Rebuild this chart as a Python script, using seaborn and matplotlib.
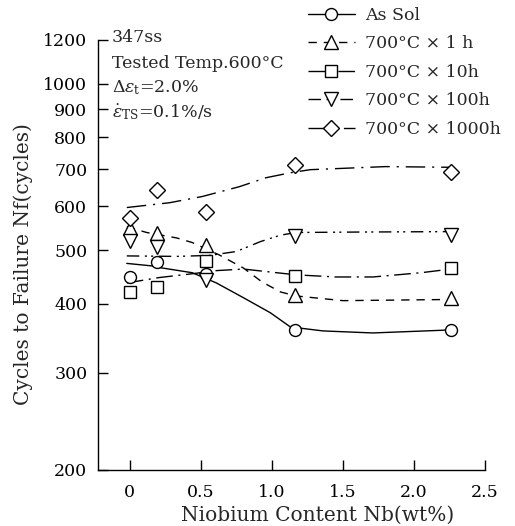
import numpy as np
import pandas as pd
import matplotlib
matplotlib.use("Agg")
import matplotlib.pyplot as plt
from matplotlib.lines import Line2D
from matplotlib.ticker import FixedLocator, NullLocator
import seaborn as sns

# measured points: Nb content (wt%) vs cycles to failure
nb = [0.0, 0.19, 0.54, 1.16, 2.26]
as_sol = [447, 476, 453, 359, 359]
h1 = [549, 537, 511, 415, 410]
h10 = [420, 429, 478, 449, 464]
h100 = [520, 507, 441, 531, 533]
h1000 = [572, 643, 586, 713, 693]

# trend curves
sol_fit_x = [-0.02, 0.16, 0.23, 0.44, 0.61, 0.80, 0.99, 1.13, 1.36, 1.71, 2.20, 2.26]
sol_fit = [473, 468, 464, 455, 436, 410, 385, 363, 357, 354, 358, 359]
h1_fit_x = [-0.02, 0.12, 0.33, 0.44, 0.63, 0.80, 0.93, 1.06, 1.17, 1.50, 2.26]
h1_fit = [551, 538, 526, 516, 490, 464, 438, 420, 413, 405, 407]
h10_fit_x = [-0.02, 0.21, 0.44, 0.61, 0.80, 1.00, 1.17, 1.45, 1.71, 2.05, 2.26]
h10_fit = [436, 446, 453, 459, 462, 456, 451, 447, 447, 455, 462]
h100_fit_x = [-0.02, 0.33, 0.56, 0.75, 0.92, 1.06, 1.17, 1.60, 2.26]
h100_fit = [488, 487, 489, 497, 518, 532, 538, 539, 540]
h1000_fit_x = [-0.02, 0.28, 0.51, 0.77, 0.96, 1.13, 1.27, 1.80, 2.26]
h1000_fit = [597, 609, 625, 651, 676, 690, 699, 708, 706]

labels = ["As Sol", "700°C × 1 h", "700°C × 10h", "700°C × 100h", "700°C × 1000h"]
yticks = [200, 300, 400, 500, 600, 700, 800, 900, 1000, 1200]
xticks = [0, 0.5, 1.0, 1.5, 2.0, 2.5]
xticklabels = ["0", "0.5", "1.0", "1.5", "2.0", "2.5"]

sns.set_style("ticks")
plt.rcParams["font.family"] = ["DejaVu Serif"]
plt.rcParams["mathtext.fontset"] = "dejavuserif"

fig = plt.figure(figsize=(5.15, 5.26), dpi=100)
ax = fig.add_axes([0.191, 0.1065, 0.751, 0.8175])

series = [
    (sol_fit_x, sol_fit, as_sol, "o", 8.6, "-"),
    (h1_fit_x, h1_fit, h1, "^", 9.5, (0, (6, 5))),
    (h10_fit_x, h10_fit, h10, "s", 8.0, (0, (12, 4, 1.5, 4))),
    (h100_fit_x, h100_fit, h100, "v", 9.5, (0, (9, 4, 1.5, 3, 1.5, 4))),
    (h1000_fit_x, h1000_fit, h1000, "D", 8.5, (0, (14, 5, 1.5, 5))),
]

handles = []
for (fx, fy, pts, mk, ms, ls), lab in zip(series, labels):
    sns.lineplot(x=fx, y=fy, ax=ax, color="black", lw=1.0, linestyle=ls,
                 sort=False, zorder=2)
    sns.lineplot(x=nb, y=pts, ax=ax, color="black", linestyle="", marker=mk,
                 markersize=ms, markerfacecolor="white", markeredgecolor="black",
                 markeredgewidth=1.0, zorder=3)
    handles.append(Line2D([], [], color="black", lw=1.0, linestyle=ls, marker=mk,
                          markersize=ms, markerfacecolor="white",
                          markeredgecolor="black", markeredgewidth=1.0))

ax.set_yscale("log")
ax.set_ylim(200, 1200)
ax.set_xlim(-0.22, 2.5)
ax.yaxis.set_major_locator(FixedLocator(yticks))
ax.yaxis.set_minor_locator(NullLocator())
ax.set_yticklabels([str(v) for v in yticks])
ax.set_xticks(xticks)
ax.set_xticklabels(xticklabels)
ax.tick_params(axis="both", direction="in", length=7, width=1.0, labelsize=12.5,
               colors="black")
ax.tick_params(axis="x", pad=10)
ax.tick_params(axis="y", pad=8)
sns.despine(ax=ax)
for s in ["left", "bottom"]:
    ax.spines[s].set_linewidth(1.0)
    ax.spines[s].set_color("black")

ax.set_xlabel("Niobium Content Nb(wt%)", fontsize=14.5)
ax.set_ylabel("Cycles to Failure Nf(cycles)", fontsize=14.5)
ax.xaxis.set_label_coords(0.568, -0.084)
ax.yaxis.set_label_coords(-0.168, 0.479)

txt = ["347ss", "Tested Temp.600°C",
       r"$\mathit{\Delta}\epsilon_{\rm t}$=2.0%",
       r"$\dot{\epsilon}_{\rm TS}$=0.1%/s"]
ys = [38, 64, 88, 112]
for t, yy in zip(txt, ys):
    fig.text(112 / 515, 1 - yy / 526, t, fontsize=12.5, va="center", ha="left")

fig.legend(handles, labels, loc="upper left",
           bbox_to_anchor=(308 / 515, 1 - 7 / 526), frameon=False,
           fontsize=12.5, handlelength=2.7, handletextpad=0.6,
           labelspacing=0.66, borderpad=0, borderaxespad=0)

fig.savefig("out.png", dpi=100)
